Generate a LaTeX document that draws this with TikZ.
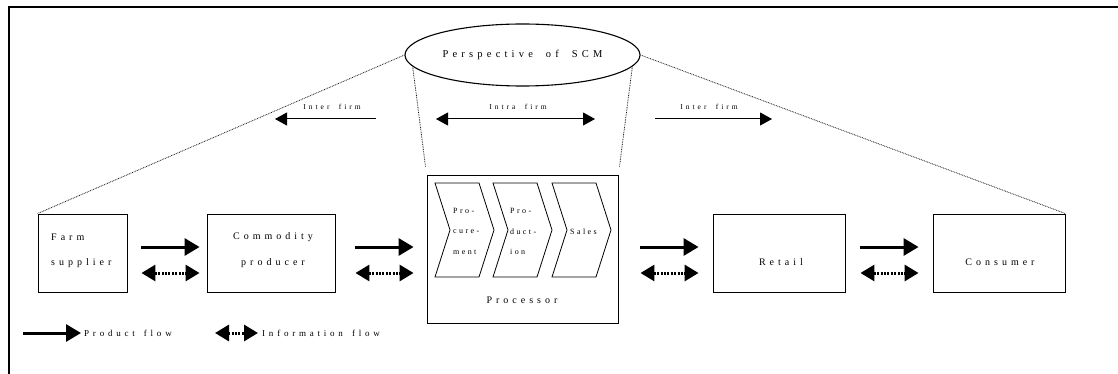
\documentclass[tikz,border=0pt]{standalone}
\usepackage{fontspec}
\setmainfont{Liberation Serif}
\newfontfamily\lsbox[LetterSpace=40,WordSpace=1.7]{Liberation Serif}
\newfontfamily\lsell[LetterSpace=40,WordSpace=1.9]{Liberation Serif}
\newfontfamily\lschev[LetterSpace=30,WordSpace=1.7]{Liberation Serif}
\newfontfamily\lstop[LetterSpace=40,WordSpace=1.7]{Liberation Serif}
\newfontfamily\lsleg[LetterSpace=42,WordSpace=1.5]{Liberation Serif}
\usetikzlibrary{arrows.meta,shapes.geometric}
\begin{document}
\begin{tikzpicture}[x=1pt,y=-1pt,
  box/.style={draw,line width=0.9pt,inner sep=0pt,minimum height=78pt},
  boxtext/.style={inner sep=0pt,font=\lsbox\fontsize{10}{12}\selectfont},
  chevtext/.style={inner sep=0pt,font=\lschev\fontsize{8}{9}\selectfont},
  toptext/.style={inner sep=0pt,font=\lstop\fontsize{7.5}{9}\selectfont},
  legtext/.style={inner sep=0pt,font=\lsleg\fontsize{9}{10}\selectfont},
  prod/.style={line width=3pt,-{Triangle[length=15pt,width=17pt]}},
  info/.style={line width=3pt,dash pattern=on 2pt off 1.4pt,{Triangle[length=14pt,width=16pt]}-{Triangle[length=14pt,width=16pt]}},
  thinarrow/.style={line width=1pt,-{Triangle[length=12pt,width=13pt]}},
  thinboth/.style={line width=1pt,{Triangle[length=12pt,width=13pt]}-{Triangle[length=12pt,width=13pt]}},
  guide/.style={line width=0.8pt,dash pattern=on 0.8pt off 0.9pt,draw=black!90},
  chev/.style={draw,line width=0.8pt}
]
\useasboundingbox (0,0) rectangle (1118,374);
% frame
\draw[line width=2.5pt] (9,374) -- (9,7) -- (1118,7);

% ellipse
\node[draw,ellipse,line width=1.1pt,minimum width=235pt,minimum height=62pt,inner sep=0pt,
      font=\lsell\fontsize{10.5}{12}\selectfont] (ell) at (522.5,55) {Perspective of SCM};

% boxes
\node[box,minimum width=89pt] (farm) at (82.5,253) {};
\node[box,minimum width=128pt] (comm) at (271,253) {};
\node[box,minimum width=191pt,minimum height=148pt] (proc) at (522.5,249) {};
\node[box,minimum width=132pt] (retail) at (779,253) {};
\node[box,minimum width=132pt] (cons) at (999,253) {};

% box texts
\node[boxtext,anchor=west] (farmA) at (51,237) {Farm};
\node[boxtext,anchor=west] (farmB) at (51,263) {supplier};
\node[boxtext] (commA) at (273,237) {Commodity};
\node[boxtext] (commB) at (273,263) {producer};
\node[boxtext] (procT) at (522,300) {Processor};
\node[boxtext] (retT) at (781,262) {Retail};
\node[boxtext] (consT) at (1000,262) {Consumer};

% chevrons
\foreach \x in {435,493,552}{
  \draw[chev] (\x,183) -- (\x+44,183) -- (\x+59,230) -- (\x+44,277) -- (\x,277) -- (\x+15,230) -- cycle;
}
\node[chevtext,anchor=west] (c1a) at (453,211) {Pro-};
\node[chevtext,anchor=west] (c1b) at (453,232) {cure-};
\node[chevtext,anchor=west] (c1c) at (453,252) {ment};
\node[chevtext,anchor=west] (c2a) at (510,211) {Pro-};
\node[chevtext,anchor=west] (c2b) at (510,232) {duct-};
\node[chevtext,anchor=west] (c2c) at (510,252) {ion};
\node[chevtext,anchor=west] (c3a) at (570,232) {Sales};

% guide lines
\draw[guide] (ell.west) -- (farm.north west);
\draw[guide,shorten >=8pt] (ell.186) -- (proc.north west);
\draw[guide] (ell.east) -- (cons.north east);
\draw[guide,shorten >=8pt] (ell.354) -- (proc.north east);

% top arrows
\coordinate (t1s) at (376,119);
\coordinate (t1e) at (275,119);
\coordinate (t2s) at (436,119);
\coordinate (t2e) at (595,119);
\coordinate (t3s) at (655,119);
\coordinate (t3e) at (772,119);
\draw[thinarrow] (t1s) -- (t1e);
\draw[thinboth] (t2s) -- (t2e);
\draw[thinarrow] (t3s) -- (t3e);
\node[toptext] (l1) at (332,107) {Inter firm};
\node[toptext] (l2) at (518,107) {Intra firm};
\node[toptext] (l3) at (709,107) {Inter firm};

% flows
\draw[prod,shorten <=14pt,shorten >=7pt] ([yshift=6pt]farm.east) -- ([yshift=6pt]comm.west);
\draw[info,shorten <=14pt,shorten >=7pt] ([yshift=-20pt]farm.east) -- ([yshift=-20pt]comm.west);
\draw[prod,shorten <=20pt,shorten >=13pt] ([yshift=6pt]comm.east) -- ([yshift=6pt]comm.east -| proc.west);
\draw[info,shorten <=20pt,shorten >=13pt] ([yshift=-20pt]comm.east) -- ([yshift=-20pt]comm.east -| proc.west);
\draw[prod,shorten <=22pt,shorten >=14pt] ([yshift=6pt]retail.west -| proc.east) -- ([yshift=6pt]retail.west);
\draw[info,shorten <=22pt,shorten >=14pt] ([yshift=-20pt]retail.west -| proc.east) -- ([yshift=-20pt]retail.west);
\draw[prod,shorten <=15pt,shorten >=14pt] ([yshift=6pt]retail.east) -- ([yshift=6pt]cons.west);
\draw[info,shorten <=15pt,shorten >=14pt] ([yshift=-20pt]retail.east) -- ([yshift=-20pt]cons.west);

% legend
\coordinate (lg1s) at (23,333);
\coordinate (lg1e) at (81,333);
\coordinate (lg2s) at (215,333);
\coordinate (lg2e) at (258,333);
\draw[prod] (lg1s) -- (lg1e);
\draw[info] (lg2s) -- (lg2e);
\node[legtext,anchor=west] (lgt1) at (84,333) {Product flow};
\node[legtext,anchor=west] (lgt2) at (262,333) {Information flow};
\end{tikzpicture}
\end{document}
